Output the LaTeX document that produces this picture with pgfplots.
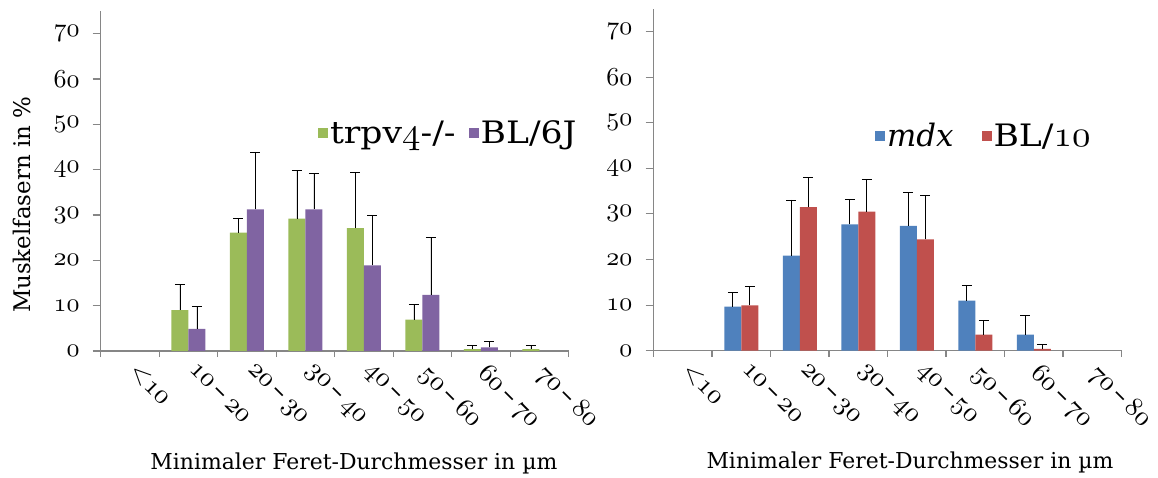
\documentclass[border=0pt]{standalone}
\usepackage{fontspec}
\setmainfont{DejaVu Serif}
\newfontfamily\legfont{DejaVu Serif}[FakeStretch=1.12]
\newfontfamily\plainserif{DejaVu Serif}
\DeclareFontFamily{OML}{cmm}{\skewchar\font'177}
\DeclareFontShape{OML}{cmm}{m}{it}{<->cmmi10}{}
\DeclareFontShape{OML}{cmm}{b}{it}{<->cmmib10}{}
\usepackage{pgfplots}
\usepackage{pgfplotstable}
\pgfplotsset{compat=1.18}
\definecolor{cgreen}{RGB}{155,187,89}
\definecolor{cpurple}{RGB}{128,100,162}
\definecolor{cblue}{RGB}{79,129,189}
\definecolor{cred}{RGB}{192,80,77}
\definecolor{axgray}{RGB}{134,134,134}
\newcommand{\osn}[1]{$\mathnormal{#1}$}
\newcommand{\losn}[1]{{\fontsize{37}{37}\selectfont\osn{#1}}}
\newcommand{\rng}[2]{\osn{#1}\,–\,\osn{#2}}

\pgfplotstableread{
x y e
1 9.0 5.7
2 26.1 3.1
3 29.2 10.6
4 27.1 12.3
5 6.9 3.4
6 0.4 0.9
7 0.4 0.9
}\tgreen
\pgfplotstableread{
x y e
1 4.9 5.0
2 31.25 12.65
3 31.25 7.9
4 18.9 10.9
5 12.4 12.6
6 0.8 1.26
}\tpurple
\pgfplotstableread{
x y e
1 9.66 3.2
2 20.85 12.2
3 27.7 5.4
4 27.4 7.4
5 11.0 3.3
6 3.5 4.3
}\tblue
\pgfplotstableread{
x y e
1 9.95 4.1
2 31.5 6.4
3 30.5 7.0
4 24.4 9.7
5 3.5 3.2
6 0.4 0.9
}\tred

\pgfplotsset{
  feret/.style={
    scale only axis,
    ymin=0, ymax=75, xmin=-0.5, xmax=7.5,
    axis x line*=bottom, axis y line*=left,
    axis line style={axgray, line width=1.1pt},
    tick align=outside,
    major tick length=8bp, minor tick length=6bp,
    tick style={axgray, line width=1.1pt},
    major x tick style={draw=none},
    ytick={0,10,...,70},
    yticklabels={\osn{0},\osn{10},\osn{20},\osn{30},\osn{40},\osn{50},\osn{60},\osn{70}},
    yticklabel style={font=\fontsize{26}{28}\selectfont, anchor=east, inner sep=2bp, xshift=-11bp},
    xtick={0,...,7},
    minor xtick={-0.5,0.5,...,7.5},
    xticklabels={{${<}\mathnormal{10}$},\rng{10}{20},\rng{20}{30},\rng{30}{40},\rng{40}{50},\rng{50}{60},\rng{60}{70},\rng{70}{80}},
    xticklabel style={font=\fontsize{27}{29}\selectfont, rotate=-45, anchor=north west, inner sep=0pt, yshift=4bp, xshift=8bp},
    ybar=0pt, bar width=17bp,
    label style={font=\fontsize{22}{24}\selectfont},
    legend columns=-1,
    legend style={draw=none, fill=none, font=\legfont\fontsize{31}{33}\selectfont, inner sep=0pt,
      nodes={inner xsep=2bp}},
    legend image code/.code={\fill[##1] (0bp,-5bp) rectangle (10bp,5bp);},
    err/.style={draw=none, error bars/.cd, y dir=plus, y explicit,
      error bar style={black, line width=0.9pt},
      error mark options={rotate=90, black, line width=0.9pt, mark size=5bp}},
  }
}

\begin{document}
\begin{tikzpicture}
\useasboundingbox (0,0) rectangle (1158bp,478bp);
\begin{axis}[feret, at={(100.7bp,127bp)}, anchor=south west,
  width=468bp, height=340bp,
  ylabel={\fontsize{23}{25}\selectfont Muskelfasern in \%},
  ylabel style={at={(axis description cs:-0.168,0.43)}, anchor=center, rotate=0},
  xlabel={Minimaler Feret-Durchmesser in µm},
  xlabel style={at={(axis description cs:0.541,-0.33)}, anchor=center},
  legend style={at={(rel axis cs:0.464,0.641)}, anchor=west,
    /tikz/every even column/.append style={column sep=11bp}}]
\addplot[fill=cgreen, err] table[x=x, y=y, y error=e]{\tgreen};
\addplot[fill=cpurple, err] table[x=x, y=y, y error=e]{\tpurple};
\legend{trpv\losn{4}-/-, BL/6J}
\end{axis}
\begin{axis}[feret, at={(653.5bp,127.3bp)}, anchor=south west,
  width=468bp, height=342bp,
  xlabel={Minimaler Feret-Durchmesser in µm},
  xlabel style={at={(axis description cs:0.548,-0.328)}, anchor=center},
  legend style={at={(rel axis cs:0.473,0.628)}, anchor=west,
    /tikz/every even column/.append style={column sep=26bp}}]
\addplot[fill=cblue, err] table[x=x, y=y, y error=e]{\tblue};
\addplot[fill=cred, err] table[x=x, y=y, y error=e]{\tred};
\legend{{\plainserif\itshape mdx}, BL/\losn{10}}
\end{axis}
\end{tikzpicture}
\end{document}
